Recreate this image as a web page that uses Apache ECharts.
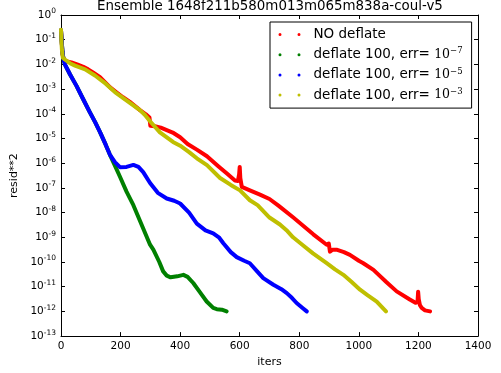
<!DOCTYPE html>
<html>
<head>
<meta charset="utf-8">
<script src="https://cdn.jsdelivr.net/npm/echarts@6/dist/echarts.min.js"></script>
<style>html,body{margin:0;padding:0;background:#fff}#c{width:501px;height:373px}</style>
</head>
<body>
<div id="c"></div>
<script>
// ---- data ----
const titleText = 'Ensemble 1648f211b580m013m065m838a-coul-v5';
const seriesNames = ['NO deflate', 'deflate 100, err=1e-7', 'deflate 100, err=1e-5', 'deflate 100, err=1e-3'];
const legendExp = [null, '\u22127', '\u22125', '\u22123'];
const seriesColors = ['#ff0000', '#008000', '#0000ff', '#bfbf00'];

const redIters = [0,2,5,10,20,35,54,75,91,110,131,150,165,185,208,235,265,285,297,300,315,335,355,375,400,425,456,490,528,560,584,594,598,600,602,607,634,668,700,730,780,820,847,892,895,899,903,912,925,950,970,1000,1015,1049,1093,1127,1171,1190,1197,1199,1201,1205,1211,1222,1239];
const redVals = [2.4e-1,1.0e-1,2.51e-2,1.51e-2,1.32e-2,1.2e-2,1.0e-2,7.94e-3,6.31e-3,4.47e-3,3.02e-3,1.78e-3,1.17e-3,7.59e-4,4.68e-4,2.82e-4,1.41e-4,9.55e-5,7.08e-5,3.31e-5,3.16e-5,2.75e-5,2.19e-5,1.74e-5,1.12e-5,6.03e-6,3.55e-6,1.91e-6,7.59e-7,3.55e-7,2.0e-7,1.91e-7,3.55e-7,7.08e-7,2.51e-7,1.1e-7,7.94e-8,5.37e-8,3.55e-8,1.91e-8,6.31e-9,2.51e-9,1.32e-9,5.01e-10,4.17e-10,5.62e-10,2.63e-10,3.16e-10,3.16e-10,2.51e-10,1.95e-10,1.12e-10,8.91e-11,4.79e-11,1.51e-11,6.46e-12,3.02e-12,2.24e-12,2.4e-12,6.31e-12,3.16e-12,1.78e-12,1.38e-12,1.1e-12,1.0e-12];

const greenIters = [0,2,5,8,13,30,52,75,97,115,131,150,164,181,198,220,243,276,299,310,330,343,355,368,390,411,425,444,465,489,511,523,540,556];
const greenVals = [2.4e-1,1.0e-1,3.16e-2,1.78e-2,1.0e-2,3.98e-3,1.35e-3,3.8e-4,1.15e-4,4.47e-5,1.82e-5,5.62e-6,2.24e-6,7.94e-7,2.82e-7,7.08e-8,2.0e-8,2.29e-9,5.01e-10,3.16e-10,1.0e-10,4.17e-11,2.82e-11,2.4e-11,2.63e-11,3.02e-11,2.51e-11,1.41e-11,6.31e-12,2.51e-12,1.38e-12,1.23e-12,1.17e-12,1.0e-12];

const blueIters = [0,2,5,8,13,30,52,75,97,115,131,150,164,181,198,220,243,260,276,299,325,355,380,400,430,456,485,511,530,545,570,590,615,634,660,679,713,740,758,775,791,810,825];
const blueVals = [2.4e-1,1.0e-1,3.16e-2,1.78e-2,1.0e-2,3.98e-3,1.35e-3,3.8e-4,1.15e-4,4.47e-5,1.82e-5,5.62e-6,2.24e-6,1.1e-6,6.92e-7,7.08e-7,8.51e-7,7.08e-7,4.37e-7,1.58e-7,6.31e-8,3.72e-8,3.02e-8,2.34e-8,1.0e-8,3.55e-9,1.91e-9,1.45e-9,1.0e-9,5.75e-10,2.51e-10,1.58e-10,1.12e-10,8.91e-11,3.98e-11,2.24e-11,1.2e-11,7.94e-12,5.5e-12,3.55e-12,2.19e-12,1.41e-12,1.0e-12];

const yellowIters = [0,1,3,6,13,30,47,81,114,150,181,230,265,282,299,332,376,400,430,456,490,534,570,601,634,660,700,735,760,779,810,846,892,920,948,975,1004,1030,1060,1091];
const yellowVals = [2.51e-1,1.12e-1,3.98e-2,1.91e-2,1.58e-2,1.12e-2,8.91e-3,6.31e-3,3.55e-3,1.66e-3,7.59e-4,2.82e-4,1.41e-4,8.91e-5,5.01e-5,1.78e-5,7.24e-6,5.13e-6,2.82e-6,1.58e-6,8.32e-7,2.51e-7,1.32e-7,7.94e-8,3.16e-8,2.0e-8,6.31e-9,3.31e-9,1.78e-9,1.0e-9,5.01e-10,2.24e-10,8.91e-11,5.01e-11,3.02e-11,1.58e-11,7.59e-12,4.47e-12,2.51e-12,1.0e-12];

const xMin = 0, xMax = 1400, xStep = 200;
const yMin = 1e-13, yMax = 1;

// ---- chart ----
const FONT = 'DejaVu Sans';
const zip = (a, b) => a.map((v, i) => [v, b[i]]);
const allData = [zip(redIters, redVals), zip(greenIters, greenVals), zip(blueIters, blueVals), zip(yellowIters, yellowVals)];

const dotIcon = 'path://M0,1.5a1.5,1.5 0 1,0 3,0a1.5,1.5 0 1,0 -3,0zM19,1.5a1.5,1.5 0 1,0 3,0a1.5,1.5 0 1,0 -3,0z';

function logLabel(v) {
  const e = Math.round(Math.log10(v));
  return '{b|10}{s|' + String(e) + '}';
}

const chart = echarts.init(document.getElementById('c'), null, {renderer: 'canvas'});
chart.setOption({
  animation: false,
  backgroundColor: '#fff',
  title: {
    text: titleText, left: 97, top: 0, padding: 0,
    textStyle: {fontFamily: FONT, fontSize: 13.4, fontWeight: 'normal', color: '#000'}
  },
  grid: {left: 61, right: 23, top: 15, bottom: 35, containLabel: false},
  legend: {
    orient: 'vertical', left: 270, top: 22,
    padding: [5.5, 9, 6, 8.5], itemGap: 5.2,
    itemWidth: 22, itemHeight: 3,
    backgroundColor: '#fff', borderColor: '#000', borderWidth: 1, borderRadius: 0,
    data: seriesNames.map((n, i) => ({name: n, icon: dotIcon})),
    formatter: function (name) {
      const i = seriesNames.indexOf(name);
      if (legendExp[i] == null) return '{t|' + name + '}';
      return '{t|deflate 100, err= }{m|10}{s|' + legendExp[i] + '}';
    },
    textStyle: {
      fontFamily: FONT, fontSize: 13.5, color: '#000', padding: [0, 0, 0, 8],
      rich: {
        t: {fontFamily: FONT, fontSize: 13.5, color: '#000', lineHeight: 16},
        m: {fontFamily: 'DejaVu Serif', fontSize: 12.5, color: '#000', lineHeight: 16},
        s: {fontFamily: 'DejaVu Serif', fontSize: 8.5, color: '#000', verticalAlign: 'top'}
      }
    }
  },
  xAxis: [{
    type: 'value', min: xMin, max: xMax, interval: xStep,
    name: 'iters', nameLocation: 'middle', nameGap: 17,
    nameTextStyle: {fontFamily: FONT, fontSize: 11, color: '#000'},
    axisLine: {show: true, onZero: false, lineStyle: {color: '#000', width: 1}},
    axisTick: {show: true, inside: true, length: 4, lineStyle: {color: '#000'}},
    axisLabel: {fontFamily: FONT, fontSize: 10.5, color: '#000', margin: 5, formatter: v => String(v)},
    splitLine: {show: false}
  }, {
    type: 'value', min: xMin, max: xMax, interval: xStep, position: 'top',
    axisLine: {show: true, onZero: false, lineStyle: {color: '#000', width: 1}},
    axisTick: {show: true, inside: true, length: 4, lineStyle: {color: '#000'}},
    axisLabel: {show: false}, splitLine: {show: false}
  }],
  yAxis: [{
    type: 'log', logBase: 10, min: yMin, max: yMax, interval: 1,
    name: 'resid**2', nameLocation: 'middle', nameGap: 35,
    nameTextStyle: {fontFamily: FONT, fontSize: 11, color: '#000'},
    axisLine: {show: true, onZero: false, lineStyle: {color: '#000', width: 1}},
    axisTick: {show: true, inside: true, length: 4, lineStyle: {color: '#000'}},
    axisLabel: {
      margin: 5, formatter: logLabel,
      rich: {
        b: {fontFamily: FONT, fontSize: 10.5, color: '#000', lineHeight: 15},
        s: {fontFamily: FONT, fontSize: 7.5, color: '#000', verticalAlign: 'top'}
      }
    },
    splitLine: {show: false}
  }, {
    type: 'log', logBase: 10, min: yMin, max: yMax, interval: 1, position: 'right',
    axisLine: {show: true, onZero: false, lineStyle: {color: '#000', width: 1}},
    axisTick: {show: true, inside: true, length: 4, lineStyle: {color: '#000'}},
    axisLabel: {show: false}, splitLine: {show: false}
  }],
  series: seriesNames.map((n, i) => ({
    name: n, type: 'line', xAxisIndex: 0, yAxisIndex: 0,
    data: allData[i], showSymbol: false, symbol: 'none', smooth: false,
    color: seriesColors[i],
    itemStyle: {color: seriesColors[i]},
    lineStyle: {color: seriesColors[i], width: 4, cap: 'round', join: 'round'},
    z: 2 + i
  }))
});
</script>
</body>
</html>
